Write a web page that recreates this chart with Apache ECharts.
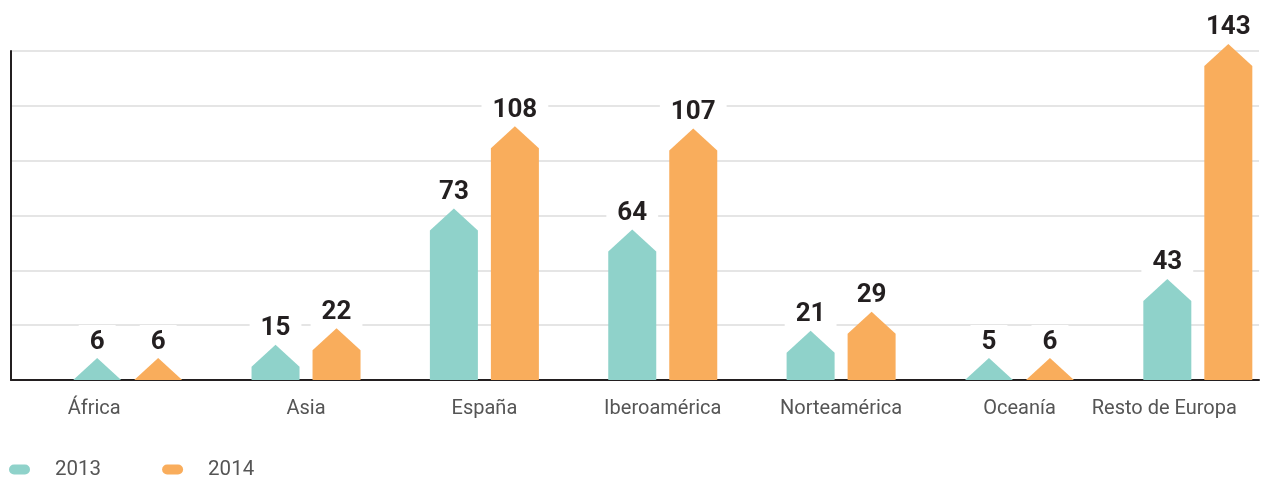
<!DOCTYPE html>
<html>
<head>
<meta charset="utf-8">
<script src="https://cdn.jsdelivr.net/npm/echarts@6/dist/echarts.min.js"></script>
<style>html,body{margin:0;padding:0;background:#fff}#c{width:1263px;height:481px}</style>
</head>
<body>
<div id="c"></div>
<script>
var categories = ['África', 'Asia', 'España', 'Iberoamérica', 'Norteamérica', 'Oceanía', 'Resto de Europa'];
var values2013 = [6, 15, 73, 64, 21, 5, 43];
var values2014 = [6, 22, 108, 107, 29, 6, 143];
var seriesNames = ['2013', '2014'];

var COLORS = ['#8fd2ca', '#f9ad5c'];
var HALF = 24, TRI = 22, OFFSET = 30.5;

function makeRender(offset) {
  return function (params, api) {
    var idx = api.value(0), v = api.value(1);
    var p0 = api.coord([idx, 0]);
    var p1 = api.coord([idx, v]);
    var cx = p0[0] + offset, base = p0[1];
    var peak = Math.min(p1[1], base - TRI);
    var shoulder = Math.min(peak + TRI, base);
    return {
      type: 'group',
      children: [{
        type: 'polygon',
        shape: { points: [[cx - HALF, base], [cx - HALF, shoulder], [cx, peak], [cx + HALF, shoulder], [cx + HALF, base]] },
        style: { fill: api.visual('color') }
      }, {
        type: 'text',
        x: cx, y: peak - 2,
        z2: 10,
        style: {
          text: String(v),
          align: 'center', verticalAlign: 'bottom',
          font: 'bold 26px Roboto, "Liberation Sans", sans-serif',
          fill: '#231f20',
          backgroundColor: '#fff',
          padding: [4, 11, 1, 11]
        }
      }]
    };
  };
}

var chart = echarts.init(document.getElementById('c'), null, { renderer: 'canvas' });
var YMAX = 140, YINT = 140 / 6;
var lastIdx = categories.length - 1;
chart.setOption({
  animation: false,
  legend: {
    left: 9, top: 459, padding: 0,
    itemWidth: 21, itemHeight: 10, itemGap: 61,
    icon: 'path://M5,0 H16 A5,5 0 0 1 16,10 H5 A5,5 0 0 1 5,0 Z',
    textStyle: { fontSize: 20.5, color: '#555', fontFamily: 'Roboto, sans-serif', padding: [0, 0, 0, 20] },
    data: seriesNames
  },
  grid: [
    { left: 11, right: 4, top: 51, bottom: 101, outerBoundsMode: 'none' },
    { left: 38.5, width: 1248.5, top: 51, bottom: 101, outerBoundsMode: 'none' }
  ],
  xAxis: [
    { gridIndex: 0, type: 'category', data: [''], axisLine: { lineStyle: { color: '#231f20', width: 2 } }, axisTick: { show: false }, axisLabel: { show: false } },
    { gridIndex: 1, type: 'category', data: categories,
      axisLine: { show: false }, axisTick: { show: false },
      axisLabel: {
        margin: 19, fontSize: 20, color: '#555', fontFamily: 'Roboto, sans-serif', interval: 0,
        formatter: function (val, i) { return (i === 0 || i === lastIdx) ? '{s|' + val + '}' : val; },
        rich: { s: { fontSize: 20, color: '#555', fontFamily: 'Roboto, sans-serif', padding: [0, 67, 0, 0] } }
      } }
  ],
  yAxis: [
    { gridIndex: 0, type: 'value', min: 0, max: YMAX, interval: YINT,
      axisLine: { show: true, lineStyle: { color: '#231f20', width: 2 } }, axisTick: { show: false }, axisLabel: { show: false },
      splitLine: { lineStyle: { color: '#dcdcdc', width: 1.5 } } },
    { gridIndex: 1, type: 'value', min: 0, max: YMAX, interval: YINT,
      axisLine: { show: false }, axisTick: { show: false }, axisLabel: { show: false }, splitLine: { show: false } }
  ],
  series: [
    { name: seriesNames[0], type: 'custom', xAxisIndex: 1, yAxisIndex: 1, itemStyle: { color: COLORS[0] },
      renderItem: makeRender(-OFFSET), data: values2013.map(function (v, i) { return [i, v]; }) },
    { name: seriesNames[1], type: 'custom', xAxisIndex: 1, yAxisIndex: 1, itemStyle: { color: COLORS[1] },
      renderItem: makeRender(OFFSET), data: values2014.map(function (v, i) { return [i, v]; }) }
  ]
});
</script>
</body>
</html>
